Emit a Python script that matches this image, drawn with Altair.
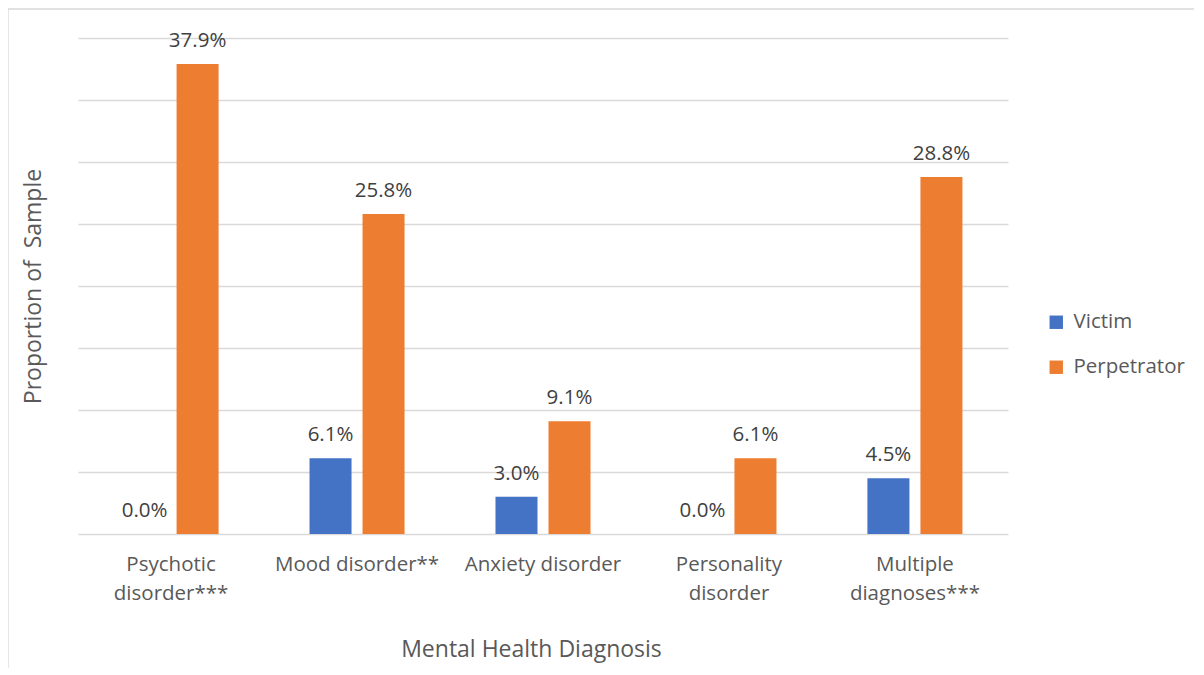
import altair as alt
import pandas as pd

categories = ["Psychotic|disorder***", "Mood disorder**", "Anxiety disorder",
              "Personality|disorder", "Multiple|diagnoses***"]
series = ["Victim", "Perpetrator"]
victim = [0.0, 6.1, 3.0, 0.0, 4.5]
perpetrator = [37.9, 25.8, 9.1, 6.1, 28.8]
colors = ["#4472C4", "#ED7D31"]

rows = []
for c, v, p in zip(categories, victim, perpetrator):
    rows.append({"cat": c, "series": "Victim", "value": v})
    rows.append({"cat": c, "series": "Perpetrator", "value": p})
df = pd.DataFrame(rows)
df["label"] = df["value"].map(lambda x: f"{x:.1f}%")

FONT = "Open Sans"
FS = 20.5
TFS = 23

x_enc = alt.X("cat:N", sort=categories,
              scale=alt.Scale(paddingInner=0.489, paddingOuter=0.245),
              axis=alt.Axis(title="Mental Health Diagnosis", labelExpr="split(datum.label, '|')",
                            labelAngle=0, labelFontSize=FS, labelColor="#595959",
                            labelFont=FONT, labelLineHeight=29, labelPadding=20,
                            labelBaseline="top",
                            ticks=False, domain=False, grid=False,
                            titleFont=FONT, titleFontSize=TFS, titleFontWeight="normal",
                            titleColor="#595959", titlePadding=35,
                            titleX=453, titleAlign="center"))
xo_enc = alt.XOffset("series:N", sort=series,
                     scale=alt.Scale(domain=series, paddingInner=0.2075, paddingOuter=0))
y_enc = alt.Y("value:Q", scale=alt.Scale(domain=[0, 40], nice=False),
              axis=alt.Axis(title="Proportion of\u00a0 Sample", labels=False, ticks=False,
                            domain=False, values=list(range(0, 45, 5)),
                            gridColor="#d9d9d9", gridWidth=1.3,
                            titleFont=FONT, titleFontSize=TFS, titleFontWeight="normal",
                            titleColor="#595959", titlePadding=33))

bars = alt.Chart(df).mark_bar().encode(
    x=x_enc, xOffset=xo_enc, y=y_enc,
    color=alt.Color("series:N", sort=series,
                    scale=alt.Scale(domain=series, range=colors),
                    legend=alt.Legend(title=None, orient="none", legendX=968, legendY=274,
                                      symbolType="square", symbolSize=180,
                                      symbolStrokeWidth=0,
                                      labelFont=FONT, labelFontSize=FS,
                                      labelColor="#595959", rowPadding=24,
                                      labelOffset=7))
)

texts = alt.Chart(df).mark_text(fontSize=FS, font=FONT, color="#404040",
                                baseline="alphabetic", dy=-17).encode(
    x=alt.X("cat:N", sort=categories), xOffset=alt.XOffset("series:N", sort=series),
    y="value:Q", text="label:N"
)

frame_left = alt.Chart(pd.DataFrame({"k": [0]})).mark_rule(color="#d9d9d9", strokeWidth=1.3).encode(
    x=alt.value(-70), y=alt.value(-29), y2=alt.value(700))
frame_top = alt.Chart(pd.DataFrame({"k": [0]})).mark_rule(color="#d9d9d9", strokeWidth=1.3).encode(
    x=alt.value(-70), x2=alt.value(1116), y=alt.value(-29))

chart = alt.layer(frame_left, frame_top, bars, texts).properties(
    width=930, height=496,
    autosize=alt.AutoSizeParams(type="none"),
    padding={"left": 70, "top": 30, "right": 186, "bottom": 134},
).configure(background="white").configure_view(strokeWidth=0, stroke="transparent")

chart.save("out.html", embed_options={"renderer": "svg", "actions": False})
